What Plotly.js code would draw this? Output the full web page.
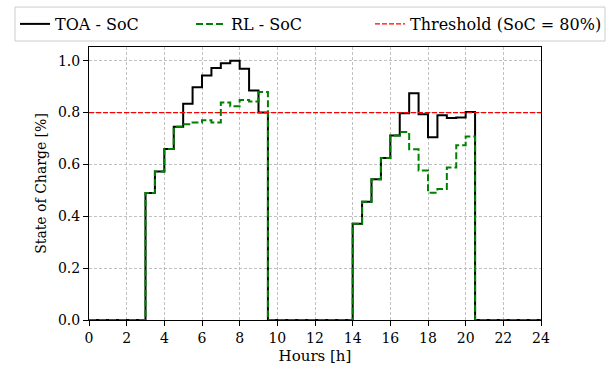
<!DOCTYPE html>
<html>
<head>
<meta charset="utf-8">
<script src="https://cdn.plot.ly/plotly-3.0.1.min.js"></script>
<style>html,body{margin:0;padding:0;background:#fff;}#chart{width:616px;height:371px;}</style>
</head>
<body>
<div id="chart"></div>
<script>
const hours = [0,0.5,1,1.5,2,2.5,3,3.5,4,4.5,5,5.5,6,6.5,7,7.5,8,8.5,9,9.5,10,10.5,11,11.5,12,12.5,13,13.5,14,14.5,15,15.5,16,16.5,17,17.5,18,18.5,19,19.5,20,20.5,21,21.5,22,22.5,23,23.5,24];
const toaSoc = [0,0,0,0,0,0,0.49,0.573,0.66,0.745,0.834,0.898,0.943,0.972,0.99,1.0,0.969,0.885,0.80,0,0,0,0,0,0,0,0,0,0.371,0.456,0.543,0.625,0.712,0.797,0.875,0.794,0.705,0.79,0.779,0.781,0.802,0,0,0,0,0,0,0,0];
const rlSoc = [0,0,0,0,0,0,0.49,0.573,0.66,0.745,0.755,0.762,0.77,0.762,0.839,0.824,0.849,0.843,0.879,0,0,0,0,0,0,0,0,0,0.371,0.456,0.543,0.625,0.712,0.725,0.659,0.577,0.491,0.505,0.588,0.674,0.708,0,0,0,0,0,0,0,0];
const thresholdX = [0, 24];
const thresholdY = [0.8, 0.8];
const xTicks = [0,2,4,6,8,10,12,14,16,18,20,22,24];
const yTicks = [0,0.2,0.4,0.6,0.8,1.0];
const seriesNames = ['TOA - SoC', 'RL - SoC', 'Threshold (SoC = 80%)'];

const font = "'DejaVu Serif', serif";
const traces = [
  {x: hours, y: toaSoc, mode: 'lines', line: {shape: 'hv', color: '#000', width: 2}, name: seriesNames[0], legend: 'legend'},
  {x: hours, y: rlSoc, mode: 'lines', line: {shape: 'hv', color: '#008000', width: 2, dash: '7px,3px'}, name: seriesNames[1], legend: 'legend'},
  {x: thresholdX, y: thresholdY, mode: 'lines', line: {color: '#ff0000', width: 1.3, dash: '5px,2px'}, name: seriesNames[2], legend: 'legend2'}
];
const gridStyle = {showgrid: true, gridcolor: '#b0b0b0', griddash: '3px,2px', gridwidth: 0.8};
const legendBase = {orientation: 'h', y: 1.022, yanchor: 'bottom', xanchor: 'left',
                    borderwidth: 0, bgcolor: 'rgba(0,0,0,0)', font: {family: font, size: 16}, itemwidth: 30};
const layout = {
  width: 616, height: 371,
  margin: {l: 89, r: 75, t: 47, b: 50.5, autoexpand: false},
  paper_bgcolor: '#fff', plot_bgcolor: '#fff',
  font: {family: font, size: 14, color: '#000'},
  showlegend: true,
  legend: Object.assign({}, legendBase, {x: -0.1637, entrywidth: 131, entrywidthmode: 'pixels'}),
  legend2: Object.assign({}, legendBase, {x: 0.6217}),
  shapes: [{type: 'rect', xref: 'paper', yref: 'paper', x0: -0.1637, x1: 1.1416, y0: 1.0219, y1: 1.1463,
            line: {color: '#cccccc', width: 1}, fillcolor: 'rgba(0,0,0,0)', layer: 'above'}],
  xaxis: Object.assign({range: [0, 24], tickvals: xTicks, ticks: 'outside', ticklen: 5, tickcolor: '#000',
          showline: true, linecolor: '#000', linewidth: 1, mirror: true, zeroline: false,
          tickfont: {family: font, size: 14},
          title: {text: 'Hours [h]', font: {family: font, size: 15}, standoff: 5}}, gridStyle),
  yaxis: Object.assign({range: [0, 1.053], tickvals: yTicks, tickformat: '.1f', ticks: 'outside', ticklen: 5, tickcolor: '#000',
          showline: true, linecolor: '#000', linewidth: 1, mirror: true, zeroline: false,
          tickfont: {family: font, size: 14},
          title: {text: 'State of Charge [%]', font: {family: font, size: 14}, standoff: 8}}, gridStyle)
};
Plotly.newPlot('chart', traces, layout, {displayModeBar: false, staticPlot: true});
</script>
</body>
</html>
